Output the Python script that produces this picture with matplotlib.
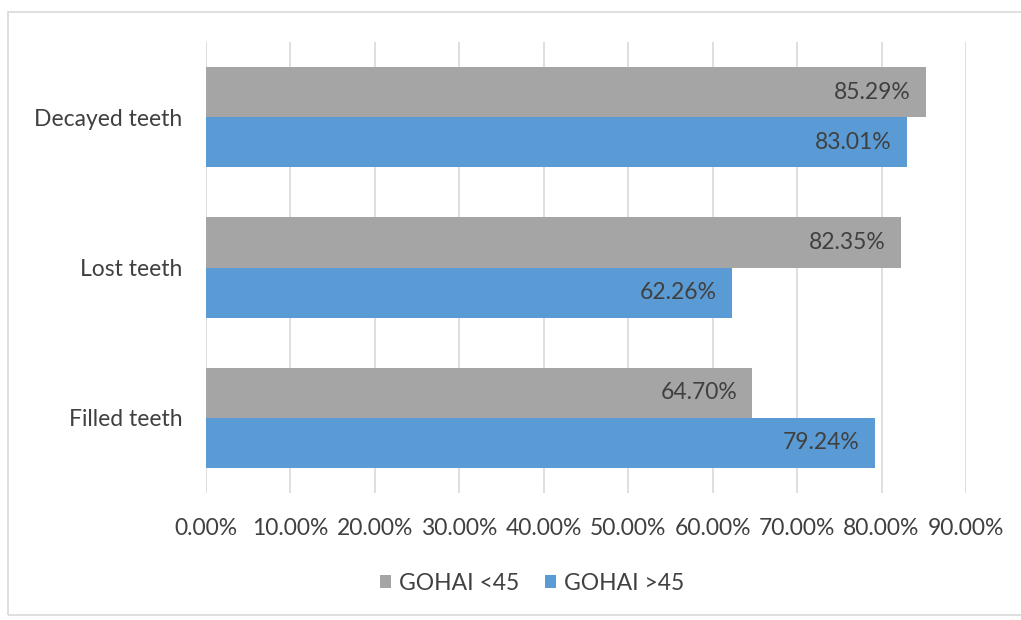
import matplotlib
matplotlib.use("Agg")
import matplotlib.pyplot as plt
from matplotlib.patches import Rectangle
import numpy as np

categories = ["Decayed teeth", "Lost teeth", "Filled teeth"]
series_names = ["GOHAI <45", "GOHAI >45"]
gohai_lt45 = [85.29, 82.35, 64.70]
gohai_gt45 = [83.01, 62.26, 79.24]
xticks = [0, 10, 20, 30, 40, 50, 60, 70, 80, 90]

colors = ["#A5A5A5", "#5B9BD5"]
plt.rcParams['font.family'] = ['Lato', 'DejaVu Sans']
FS = 16.5

fig = plt.figure(figsize=(10.21, 6.2), dpi=100)
fig.patch.set_facecolor("white")
fig.patches.append(Rectangle((8/1021, 1-615/620), 1.1, (615-12)/620, transform=fig.transFigure,
                             fill=False, edgecolor="#D9D9D9", linewidth=1.2))

ax = fig.add_axes([206/1021, 1-493/620, 760/1021, 451/620])
n = len(categories)
y = np.arange(n)[::-1]  # Decayed on top
h = 1/3
b1 = ax.barh(y + h/2, gohai_lt45, height=h, color=colors[0], label=series_names[0], zorder=3)
b2 = ax.barh(y - h/2, gohai_gt45, height=h, color=colors[1], label=series_names[1], zorder=3)

for bars, vals in ((b1, gohai_lt45), (b2, gohai_gt45)):
    for bar, v in zip(bars, vals):
        ax.annotate(f"{v:.2f}%", xy=(v, bar.get_y() + bar.get_height()/2),
                    xytext=(-11, 0), textcoords="offset points", ha="right", va="center",
                    fontsize=FS, color="#404040", zorder=4)

ax.set_xlim(0, 90)
ax.set_ylim(-0.5, n - 0.5)
ax.set_xticks(xticks)
ax.set_xticklabels([f"{t:.2f}%" for t in xticks], fontsize=FS, color="#404040")
ax.set_yticks(y)
ax.set_yticklabels(categories, fontsize=FS, color="#404040")
ax.tick_params(axis="both", length=0)
ax.tick_params(axis="x", pad=18)
ax.tick_params(axis="y", pad=17)
ax.grid(axis="x", color="#D9D9D9", linewidth=1.2, zorder=0)
for s in ax.spines.values():
    s.set_visible(False)

fig.legend(handles=[b1, b2], labels=series_names, loc="center", bbox_to_anchor=(532/1021, 1-583/620),
           ncol=2, frameon=False, fontsize=FS, handlelength=0.5, handleheight=0.5,
           handletextpad=0.35, columnspacing=1.1, labelcolor="#404040")

fig.savefig("out.png", dpi=100)
